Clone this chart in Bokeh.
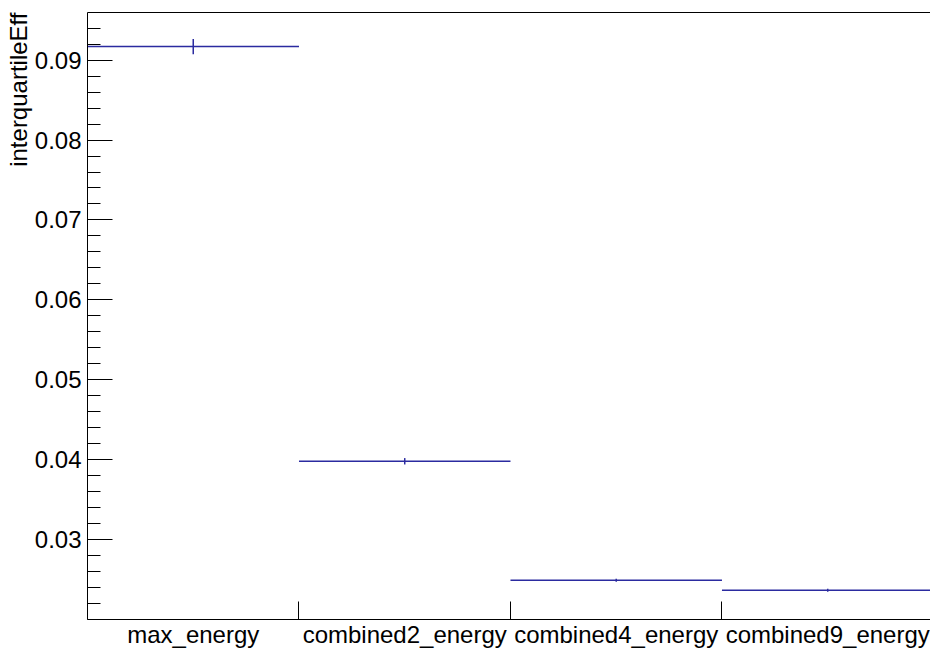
import numpy as np
from bokeh.plotting import figure
from bokeh.models import FixedTicker, LinearAxis, Range1d, Title, ColumnDataSource
from bokeh.embed import file_html
from bokeh.resources import INLINE

# Interquartile efficiency per energy reconstruction method
categories = ["max_energy", "combined2_energy", "combined4_energy", "combined9_energy"]
interquartile_eff = [0.09169, 0.0398, 0.02491, 0.02366]
eff_errors = [0.00094, 0.0004, 0.0002, 0.0002]

y_major_ticks = [0.03, 0.04, 0.05, 0.06, 0.07, 0.08, 0.09]
y_minor_ticks = [round(0.020 + 0.002 * i, 3) for i in range(39)]

FONT = "Liberation Sans"
LINE = "#2b2ba0"
Y_LO, Y_HI = 0.02, 0.09596

n = len(categories)
idx = np.arange(n)
vals = np.array(interquartile_eff)
errs = np.array(eff_errors)

bins = ColumnDataSource(dict(
    left=idx, right=idx + 1, center=idx + 0.5,
    val=vals, lo=vals - errs, hi=vals + errs,
))

p = figure(
    width=930, height=650,
    x_range=Range1d(0, 3.986), y_range=Range1d(Y_LO, Y_HI),
    toolbar_location=None, output_backend="svg",
    min_border_left=87, min_border_right=0, min_border_top=12, min_border_bottom=30,
)
p.outline_line_color = None
p.xgrid.visible = False
p.ygrid.visible = False
p.background_fill_color = "white"
p.border_fill_color = "white"

# bottom axis: labels centred in bins, ticks at bin edges
xa = p.xaxis[0]
xa.ticker = FixedTicker(ticks=[0.5, 1.5, 2.5, 3.5], minor_ticks=[1, 2, 3])
xa.major_label_overrides = {0.5: categories[0], 1.5: categories[1],
                            2.5: categories[2], 3.5: categories[3]}
xa.major_tick_line_color = None
xa.major_tick_in = 0
xa.major_tick_out = 0
xa.minor_tick_in = 18
xa.minor_tick_out = 0
xa.minor_tick_line_color = "black"
xa.axis_line_color = "black"
xa.major_label_standoff = 1
xa.major_label_text_font = FONT
xa.major_label_text_font_size = "24px"
xa.major_label_text_color = "black"

# left axis
ya = p.yaxis[0]
ya.ticker = FixedTicker(ticks=y_major_ticks, minor_ticks=y_minor_ticks)
ya.major_label_overrides = {t: f"{t:.2f}" for t in y_major_ticks}
ya.major_tick_in = 25
ya.major_tick_out = 0
ya.minor_tick_in = 13
ya.minor_tick_out = 0
ya.major_tick_line_color = "black"
ya.minor_tick_line_color = "black"
ya.axis_line_color = "black"
ya.major_label_standoff = 6
ya.major_label_text_font = FONT
ya.major_label_text_font_size = "24px"
ya.major_label_text_color = "black"

# top frame edge
top = LinearAxis(ticker=FixedTicker(ticks=[]), major_label_text_font_size="0px",
                 major_tick_line_color=None, minor_tick_line_color=None,
                 axis_line_color="black")
p.add_layout(top, "above")

# y axis title, flush with the top of the frame
p.add_layout(Title(text="interquartileEff", align="right", standoff=0,
                   text_font=FONT, text_font_size="24px",
                   text_font_style="normal", text_color="black"), "left")

# histogram bin contents and error bars
p.segment(x0="left", y0="val", x1="right", y1="val", source=bins,
          line_color=LINE, line_width=1.5)
p.segment(x0="center", y0="lo", x1="center", y1="hi", source=bins,
          line_color=LINE, line_width=1.5)

open("out.html", "w").write(file_html(p, INLINE))
